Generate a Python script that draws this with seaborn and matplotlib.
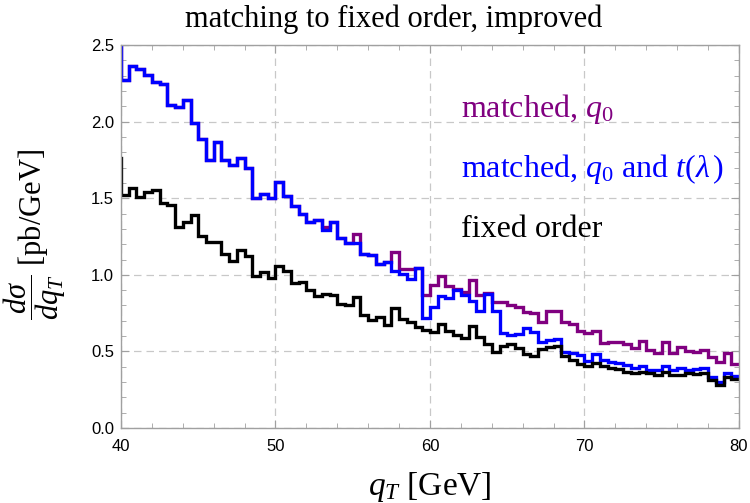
import numpy as np
import pandas as pd
import matplotlib
matplotlib.use("Agg")
import matplotlib.pyplot as plt
import seaborn as sns
from matplotlib.ticker import MultipleLocator, FormatStrFormatter

# ---- data: left edges of 0.5 GeV bins (first bin starts just left of the axis) ----
bin_left = np.arange(39.5, 80.0, 0.5)

matched_q0 = [
    2.6,
    2.274, 2.361, 2.344, 2.307, 2.259, 2.246, 2.111, 2.096, 2.139, 1.991,
    1.887, 1.748, 1.865, 1.748, 1.719, 1.763, 1.698, 1.504, 1.530, 1.500,
    1.604, 1.513, 1.452, 1.400, 1.343, 1.360, 1.315,
    1.342, 1.239, 1.211, 1.265, 1.135, 1.131, 1.068, 1.087, 1.148, 1.035,
    1.035, 1.044,
    0.870, 0.935, 0.990, 0.930, 0.905, 0.885, 0.965, 0.870, 0.880, 0.825,
    0.825, 0.800, 0.790, 0.760, 0.753, 0.690, 0.765, 0.765, 0.695, 0.680,
    0.635,
    0.622, 0.635, 0.557, 0.564, 0.564, 0.548, 0.520, 0.570, 0.509, 0.492,
    0.564, 0.487, 0.526, 0.505, 0.498, 0.509, 0.466, 0.433, 0.492, 0.418,
]

matched_q0_t = [
    2.6,
    2.274, 2.361, 2.344, 2.307, 2.259, 2.246, 2.111, 2.096, 2.139, 1.991,
    1.887, 1.748, 1.865, 1.748, 1.719, 1.763, 1.698, 1.504, 1.530, 1.500,
    1.604, 1.513, 1.452, 1.400, 1.343, 1.360, 1.290,
    1.342, 1.239, 1.211, 1.211, 1.135, 1.131, 1.068, 1.087, 1.022, 1.007,
    0.975, 1.044,
    0.717, 0.790, 0.859, 0.848, 0.900, 0.870, 0.826, 0.761, 0.872, 0.761,
    0.619, 0.608, 0.615, 0.652,
    0.625, 0.564, 0.574, 0.579, 0.498, 0.492, 0.476, 0.440, 0.483, 0.444,
    0.433, 0.426, 0.411, 0.390, 0.405, 0.380, 0.380, 0.405, 0.380, 0.390,
    0.380, 0.383, 0.390, 0.330, 0.300, 0.360, 0.340,
]

fixed_order = [
    1.763,
    1.523, 1.567, 1.506, 1.541, 1.556, 1.469, 1.454, 1.310, 1.343, 1.393,
    1.256, 1.215, 1.215, 1.138, 1.088, 1.164, 1.125, 0.995, 1.019, 0.980,
    1.056, 1.027, 0.947, 0.951, 0.903, 0.860, 0.877,
    0.870, 0.811, 0.800, 0.855, 0.735, 0.708, 0.723, 0.670, 0.782, 0.712,
    0.689, 0.660,
    0.637, 0.630, 0.678, 0.635, 0.605, 0.586, 0.665, 0.594, 0.546, 0.496,
    0.537, 0.551, 0.524, 0.486,
    0.473, 0.513, 0.527, 0.535, 0.470, 0.444, 0.418, 0.405, 0.426, 0.405,
    0.389, 0.383, 0.368, 0.357, 0.368, 0.357, 0.346, 0.368, 0.346, 0.346,
    0.357, 0.353, 0.361, 0.313, 0.281, 0.331, 0.318,
]

series_names = ["matched, q0", "matched, q0 and t(lambda)", "fixed order"]
series_values = [matched_q0, matched_q0_t, fixed_order]
series_colors = ["#800080", "#0000ff", "#000000"]
label_texts = [r"matched, $q_0$", r"matched, $q_0$ and $t(\lambda\,)$", "fixed order"]
label_y = [2.03, 1.64, 1.245]

x_ticks = [40, 50, 60, 70, 80]
y_ticks = [0.0, 0.5, 1.0, 1.5, 2.0, 2.5]

# ---- build a long table (step outline: repeat last value at the right edge) ----
rows = []
for name, vals in zip(series_names, series_values):
    xs = list(bin_left) + [bin_left[-1] + 0.5]
    ys = list(vals) + [vals[-1]]
    for xv, yv in zip(xs, ys):
        rows.append({"qT": xv, "val": yv, "series": name})
df = pd.DataFrame(rows)

sns.set_style("ticks")
plt.rcParams["font.family"] = ["Liberation Sans", "DejaVu Sans"]
plt.rcParams["text.color"] = "black"
plt.rcParams["axes.labelcolor"] = "black"
plt.rcParams["mathtext.fontset"] = "custom"
plt.rcParams["mathtext.rm"] = "Liberation Serif"
plt.rcParams["mathtext.it"] = "Liberation Serif:italic"
plt.rcParams["mathtext.bf"] = "Liberation Serif:bold"

fig = plt.figure(figsize=(7.5, 5.03), dpi=100)
ax = fig.add_axes([0.1613, 0.149, 0.8240, 0.7615])

sns.lineplot(data=df, x="qT", y="val", hue="series", hue_order=series_names,
             palette=dict(zip(series_names, series_colors)), estimator=None,
             drawstyle="steps-post", linewidth=2.4, legend=False, ax=ax,
             sort=True)
for ln in ax.get_lines():
    ln.set_solid_joinstyle("miter")

ax.set_xlim(40, 80)
ax.set_ylim(0, 2.5)
ax.set_xticks(x_ticks)
ax.set_yticks(y_ticks)
ax.yaxis.set_major_formatter(FormatStrFormatter("%.1f"))
ax.xaxis.set_minor_locator(MultipleLocator(2))
ax.yaxis.set_minor_locator(MultipleLocator(0.1))

spine_col = "#a0a0a0"
for s in ax.spines.values():
    s.set_color(spine_col)
    s.set_linewidth(1.0)
ax.tick_params(which="both", direction="in", top=True, right=True,
               color=spine_col, labelsize=12, labelcolor="black")
ax.tick_params(which="major", length=6, width=0.8)
ax.tick_params(which="minor", length=3.5, width=0.6)
ax.tick_params(axis="x", pad=8)
ax.tick_params(axis="y", pad=5)

ax.grid(True, which="major", color="#c8c8c8", linestyle=(0, (6, 4)), linewidth=0.9)

ax.set_xlabel("")
ax.set_ylabel("")
fig.text(394 / 750, 1 - 27 / 503, "matching to fixed order, improved",
         family="Liberation Serif", fontsize=22, ha="center", va="baseline",
         color="black")
fig.text(430 / 750, 1 - 495 / 503, r"$q_T$ [GeV]", family="Liberation Serif",
         fontsize=24, ha="center", va="baseline", color="black")
fig.text(35 / 750, 1 - 234 / 503, r"$\dfrac{d\sigma}{dq_T}$ [pb/GeV]",
         family="Liberation Serif", fontsize=22, rotation=90,
         ha="center", va="center", color="black")

for txt, yv, col in zip(label_texts, label_y, series_colors):
    ax.text(62.0, yv, txt, color=col, family="Liberation Serif", fontsize=23,
            ha="left", va="baseline")

fig.savefig("out.png", dpi=100)
